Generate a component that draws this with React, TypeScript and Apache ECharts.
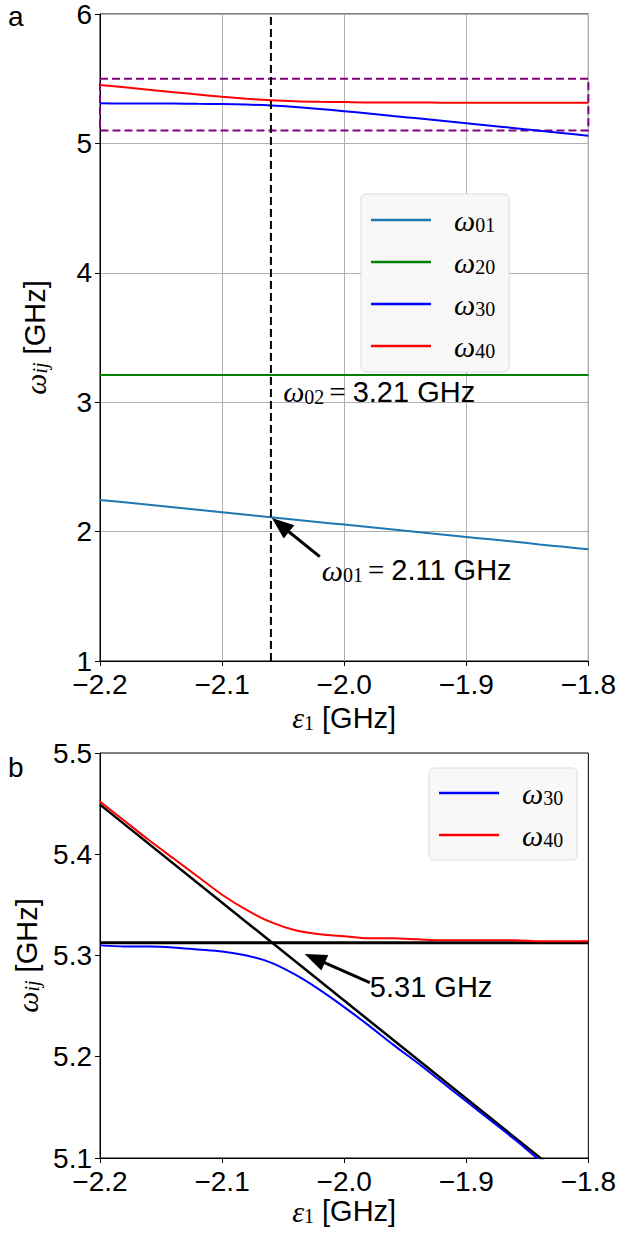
import React, { useEffect, useRef } from "react";
import * as echarts from "echarts";

// ---- data ----
const EPS = [-2.2, -2.18, -2.16, -2.14, -2.12, -2.1, -2.08, -2.06, -2.04, -2.02, -2.0, -1.98, -1.96, -1.94, -1.92, -1.9, -1.88, -1.86, -1.84, -1.82, -1.8];
const W01 = [2.245, 2.226, 2.207, 2.188, 2.169, 2.15, 2.13, 2.111, 2.092, 2.073, 2.054, 2.035, 2.016, 1.997, 1.978, 1.959, 1.94, 1.921, 1.901, 1.882, 1.863];
const W20 = [3.21, 3.21, 3.21, 3.21, 3.21, 3.21, 3.21, 3.21, 3.21, 3.21, 3.21, 3.21, 3.21, 3.21, 3.21, 3.21, 3.21, 3.21, 3.21, 3.21, 3.21];
const W30 = [5.31, 5.309, 5.309, 5.308, 5.306, 5.304, 5.3, 5.293, 5.281, 5.266, 5.249, 5.231, 5.212, 5.194, 5.175, 5.156, 5.137, 5.118, 5.098, 5.079, 5.06];
const W40 = [5.452, 5.433, 5.414, 5.396, 5.378, 5.36, 5.345, 5.333, 5.325, 5.321, 5.319, 5.317, 5.317, 5.316, 5.315, 5.315, 5.315, 5.315, 5.314, 5.314, 5.314];

const X_TICKS = [-2.2, -2.1, -2.0, -1.9, -1.8];
const Y_TICKS_A = [1, 2, 3, 4, 5, 6];
const Y_TICKS_B = [5.1, 5.2, 5.3, 5.4, 5.5];

const EPS_OP = -2.06; // operating point (dashed vertical)
const WINDOW_X = [-2.2, -1.8];
const WINDOW_Y = [5.1, 5.5];
const BARE_LEVEL = 5.3125; // horizontal black line
const DIAG_X = [-2.2, -1.8];
const DIAG_Y = [5.449, 5.062];

// annotation anchors (data coordinates)
const ANN_W02 = { x: -2.05, y: 3.08, text: "3.21 GHz", sub: "02" };
const ANN_W01 = { x: -2.0184, y: 1.703, text: "2.11 GHz", sub: "01" };
const ARROW_W01 = { from: [-2.02, 1.806], to: [-2.0522, 2.051] };
const ANN_B = { x: -1.979, y: 5.269, text: "5.31 GHz" };
const ARROW_B = { from: [-1.979, 5.2731], to: [-2.0241, 5.2972] };

const COLORS: Record<string, string> = {
  "ω01": "#1f77b4",
  "ω20": "#008000",
  "ω30": "#0000ff",
  "ω40": "#ff0000",
};

const SANS = "Liberation Sans, Arial, sans-serif";
const SERIF = "Liberation Serif, Times New Roman, serif";

const fmtX = (v: number) => (v < 0 ? "\u2212" : "") + Math.abs(v).toFixed(1);

const mathRich = {
  w: { fontFamily: SERIF, fontStyle: "italic", fontSize: 30, lineHeight: 30, verticalAlign: "middle", color: "#000" },
  e: { fontFamily: SERIF, fontStyle: "italic", fontSize: 30, lineHeight: 30, verticalAlign: "middle", color: "#000" },
  s: { fontFamily: SERIF, fontSize: 20, lineHeight: 20, verticalAlign: "bottom", color: "#000" },
  si: { fontFamily: SERIF, fontStyle: "italic", fontSize: 20, lineHeight: 20, verticalAlign: "bottom", color: "#000" },
  q: { fontFamily: SERIF, fontSize: 29, lineHeight: 30, verticalAlign: "middle", color: "#000", padding: [0, 7, 0, 5] },
  t: { fontFamily: SANS, fontSize: 29, lineHeight: 30, verticalAlign: "middle", color: "#000" },
};

function pairs(xs: number[], ys: number[]) {
  return xs.map((x, i) => [x, ys[i]]);
}

export default function App() {
  const ref = useRef<HTMLDivElement>(null);
  useEffect(() => {
    document.body.style.margin = "0";
    if (!ref.current) return;
    const chart = echarts.init(ref.current, undefined, { renderer: "svg" });

    const xAxisBase = (gridIndex: number, splitShow: boolean) => ({
      type: "value",
      gridIndex,
      min: X_TICKS[0],
      max: X_TICKS[X_TICKS.length - 1],
      interval: 0.1,
      axisLine: { show: true, lineStyle: { color: "#000", width: 1 } },
      axisTick: { show: true, inside: false, length: 5, lineStyle: { color: "#000", width: 1 } },
      axisLabel: { fontFamily: SANS, fontSize: 28, color: "#000", margin: 9, formatter: fmtX },
      splitLine: { show: splitShow, lineStyle: { color: "#b0b0b0", width: 1 } },
      name: "{e|ε}{s|1}{t| [GHz]}",
      nameLocation: "middle",
      nameGap: 38,
      nameTextStyle: { rich: mathRich },
    });

    const yAxisBase = (gridIndex: number, ticks: number[], interval: number, splitShow: boolean, dec: number) => ({
      type: "value",
      gridIndex,
      min: ticks[0],
      max: ticks[ticks.length - 1],
      interval,
      axisLine: { show: true, lineStyle: { color: "#000", width: 1 } },
      axisTick: { show: true, inside: false, length: 5, lineStyle: { color: "#000", width: 1 } },
      axisLabel: { fontFamily: SANS, fontSize: 28, color: "#000", margin: 8, formatter: (v: number) => v.toFixed(dec) },
      splitLine: { show: splitShow, lineStyle: { color: "#b0b0b0", width: 1 } },
      name: "{w|ω}{si|ij}{t| [GHz]}",
      nameLocation: "middle",
      nameRotate: 90,
      nameGap: 50,
      nameTextStyle: { rich: mathRich },
    });

    const lineSeries = (name: string, xIdx: number, data: number[][], color: string, width: number, extra: any = {}) => ({
      name,
      type: "line",
      xAxisIndex: xIdx,
      yAxisIndex: xIdx,
      data,
      showSymbol: false,
      symbol: "none",
      smooth: 0.3,
      lineStyle: { color, width },
      itemStyle: { color },
      z: 3,
      ...extra,
    });

    const legendCommon = {
      orient: "vertical",
      icon: "rect",
      itemWidth: 60,
      itemHeight: 2.5,
      itemGap: 12,
      backgroundColor: "#f8f8f8",
      borderColor: "#dddddd",
      borderWidth: 1,
      borderRadius: 5,
      selectedMode: false,
      formatter: (name: string) => `{w|ω}{s|${name.slice(1)}}`,
      textStyle: { color: "#000", padding: [0, 0, 0, 18], rich: mathRich },
    };

    const arrowLine = (from: number[], to: number[]) => ({
      silent: true,
      animation: false,
      symbol: ["none", "triangle"],
      symbolSize: [17, 22],
      label: { show: false },
      lineStyle: { color: "#000", width: 3, type: "solid" },
      data: [[{ coord: from }, { coord: to }]],
    });

    const textPoint = (x: number, y: number, formatter: string) => ({
      silent: true,
      animation: false,
      symbol: "circle",
      symbolSize: 0,
      label: { show: true, position: "right", distance: 0, formatter, rich: mathRich },
      data: [{ coord: [x, y] }],
    });

    const option: any = {
      animation: false,
      backgroundColor: "#ffffff",
      grid: [
        { left: 100, top: 14, width: 489, height: 647, show: true, borderColor: "#000", borderWidth: 1, backgroundColor: "transparent" },
        { left: 100, top: 753, width: 489, height: 405, show: true, borderColor: "#000", borderWidth: 1, backgroundColor: "transparent" },
      ],
      xAxis: [xAxisBase(0, true), xAxisBase(1, false)],
      yAxis: [yAxisBase(0, Y_TICKS_A, 1, true, 0), yAxisBase(1, Y_TICKS_B, 0.1, false, 1)],
      legend: [
        { ...legendCommon, left: 361, top: 194, padding: [11, 14, 11, 10], data: ["ω01", "ω20", "ω30", "ω40"] },
        { ...legendCommon, left: 429, top: 768, padding: [10, 14, 10, 10], data: ["ω30", "ω40"] },
      ],
      graphic: [
        { type: "text", left: 8, top: 2, style: { text: "a", fontFamily: SANS, fontSize: 28, fill: "#000" } },
        { type: "text", left: 8, top: 753, style: { text: "b", fontFamily: SANS, fontSize: 28, fill: "#000" } },
      ],
      series: [
        // ---- panel a ----
        lineSeries("ω01", 0, pairs(EPS, W01), COLORS["ω01"], 2, {
          markLine: arrowLine(ARROW_W01.from, ARROW_W01.to),
          markPoint: textPoint(ANN_W01.x, ANN_W01.y, `{w|ω}{s|${ANN_W01.sub}}{q|=}{t|${ANN_W01.text}}`),
        }),
        lineSeries("ω20", 0, pairs(EPS, W20), COLORS["ω20"], 2, {
          smooth: false,
          markPoint: textPoint(ANN_W02.x, ANN_W02.y, `{w|ω}{s|${ANN_W02.sub}}{q|=}{t|${ANN_W02.text}}`),
        }),
        lineSeries("ω30", 0, pairs(EPS, W30), COLORS["ω30"], 2),
        lineSeries("ω40", 0, pairs(EPS, W40), COLORS["ω40"], 2),
        lineSeries("op", 0, [[EPS_OP, Y_TICKS_A[0]], [EPS_OP, Y_TICKS_A[Y_TICKS_A.length - 1]]], "#000", 2, {
          smooth: false,
          lineStyle: { color: "#000", width: 2, type: [8, 4] },
          z: 4,
        }),
        lineSeries(
          "window",
          0,
          [
            [WINDOW_X[0], WINDOW_Y[1]],
            [WINDOW_X[1], WINDOW_Y[1]],
            [WINDOW_X[1], WINDOW_Y[0]],
            [WINDOW_X[0], WINDOW_Y[0]],
            [WINDOW_X[0], WINDOW_Y[1]],
          ],
          "#800080",
          2,
          { smooth: false, lineStyle: { color: "#800080", width: 2, type: [8, 4] }, z: 2 }
        ),
        // ---- panel b ----
        lineSeries("bare", 1, pairs(WINDOW_X, [BARE_LEVEL, BARE_LEVEL]), "#000", 3, {
          smooth: false,
          z: 2,
          markLine: arrowLine(ARROW_B.from, ARROW_B.to),
          markPoint: textPoint(ANN_B.x, ANN_B.y, `{t|${ANN_B.text}}`),
        }),
        lineSeries("diag", 1, pairs(DIAG_X, DIAG_Y), "#000", 2.5, { smooth: false, z: 2 }),
        lineSeries("ω30", 1, pairs(EPS, W30), COLORS["ω30"], 2),
        lineSeries("ω40", 1, pairs(EPS, W40), COLORS["ω40"], 2),
      ],
    };

    chart.setOption(option);
    return () => chart.dispose();
  }, []);

  return <div ref={ref} style={{ width: 619, height: 1233 }} />;
}
